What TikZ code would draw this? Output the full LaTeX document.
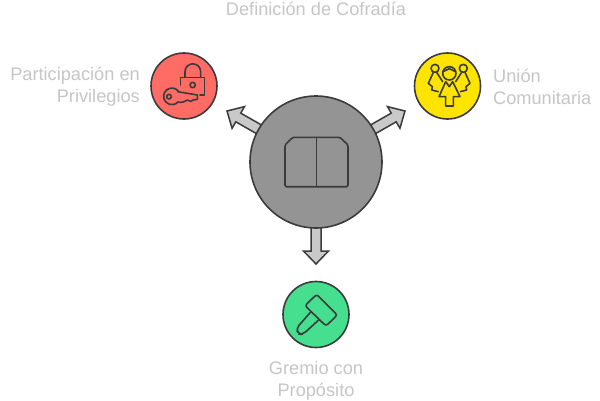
\documentclass[tikz,border=0pt]{standalone}
\usepackage{fontspec}
\setmainfont{Liberation Sans}
\usetikzlibrary{calc,backgrounds}
\definecolor{inkdark}{HTML}{3B3B3B}
\definecolor{labelgrey}{HTML}{C6C6C6}
\definecolor{hubgrey}{HTML}{949494}
\definecolor{arrowgrey}{HTML}{C9C9C9}
\definecolor{redfill}{HTML}{FF6B65}
\definecolor{yellowfill}{HTML}{FFE400}
\definecolor{greenfill}{HTML}{45DF8F}
\tikzset{
  disc/.style={circle,draw=inkdark,line width=1.6pt,inner sep=0pt,minimum size=#1},
  lbl/.style={text=labelgrey,font=\fontsize{18.2}{22}\selectfont,inner sep=0pt},
  icon/.style={draw=inkdark,line width=1.6pt,line join=round,line cap=round},
  fatarrow/.style={draw=inkdark,fill=arrowgrey,line width=1.5pt,line join=miter,
    to path={
      ($(\tikztotarget)!13pt!(\tikztostart)$) coordinate (neck)
      ($(neck)!5pt!90:(\tikztotarget)$) coordinate (n1)
      ($(neck)!5pt!-90:(\tikztotarget)$) coordinate (n2)
      ($(neck)!12.5pt!90:(\tikztotarget)$) coordinate (h1)
      ($(neck)!12.5pt!-90:(\tikztotarget)$) coordinate (h2)
      ($(\tikztostart)!5pt!90:(\tikztotarget)$) coordinate (b1)
      ($(\tikztostart)!5pt!-90:(\tikztotarget)$) coordinate (b2)
      (b1) -- (n1) -- (h1) -- (\tikztotarget) -- (h2) -- (n2) -- (b2) -- cycle
    }}
}
\begin{document}
\begin{tikzpicture}[x=1pt,y=-1pt]
\useasboundingbox (0,0) rectangle (600,400);
\node[disc=132pt,fill=hubgrey] (hub) at (316,162) {};
\node[disc=66pt,fill=redfill] (priv) at (184,86) {};
\node[disc=66pt,fill=yellowfill] (union) at (447.5,86) {};
\node[disc=66pt,fill=greenfill] (gremio) at (316,314.5) {};
\coordinate (tipl) at (227,111);
\coordinate (tipr) at (405,111);
\coordinate (tipd) at (316,264);
\begin{scope}[on background layer]
\fill[white] (0,0) rectangle (600,400);
\draw[fatarrow] (hub.center) to (tipl);
\draw[fatarrow] (hub.center) to (tipr);
\draw[fatarrow] (hub.center) to (tipd);
\end{scope}
% book
\draw[icon,rounded corners=1.5pt] (292.7,137.3) -- (340,137.3) -- (348,145) -- (348,186.7) -- (285,186.7) -- (285,145) -- cycle;
\draw[icon] (316.3,137.3) -- (316.3,186.7);
% lock and key
\begin{scope}[shift={(140,40)},x=0.3333pt,y=-0.3333pt]
\draw[icon] (122,135) -- (122,112) -- (194,112) -- (194,165) -- (180,165);
\draw[icon] (135,112) -- (135,95) arc[start angle=180,end angle=0,x radius=23.5,y radius=-23.5] -- (182,112);
\draw[icon] (158,135) circle[radius=8];
\draw[icon] (113,155) -- (172,165) -- (172,178) -- (160,180) -- (152,184) -- (142,180) -- (130,186) -- (118,187);
\draw[icon] (115,153) arc[start angle=-40,end angle=-320,radius=25];
\draw[icon] (87,170) circle[radius=7];
\end{scope}
% people
\begin{scope}[shift={(405,40)},x=0.3333pt,y=-0.3333pt]
\draw[icon] (90,85) circle[radius=12];
\draw[icon] (175,85) circle[radius=12];
\draw[icon] (133,100) circle[radius=20];
\draw[icon] (114,95) -- (133,86) -- (152,95);
\draw[icon] (85,97) -- (70,130) -- (82,140) -- (80,150) -- (100,155);
\draw[icon] (95,97) -- (113,125);
\draw[icon] (180,97) -- (195,130) -- (183,140) -- (185,150) -- (166,155);
\draw[icon] (170,97) -- (152,125);
\draw[icon] (122,125) -- (102,170) -- (122,170) -- (122,198) -- (145,198) -- (145,170) -- (165,170) -- (143,125) -- (133,140) -- cycle;
\end{scope}
% hammer
\begin{scope}[shift={(275,275)},x=0.3333pt,y=-0.3333pt]
\draw[icon,rounded corners=2.5pt] (125,58) -- (187,120) -- (153,153) -- (90,92) -- cycle;
\draw[icon,rounded corners=4pt] (108,110) -- (64,160) -- (70,178) -- (84,178) -- (132,134);
\end{scope}
% labels
\node[lbl,anchor=center] (title) at (316,9) {Definición de Cofradía};
\node[lbl,anchor=east,align=right] (lpriv) at (140,87) {Participación en\\Privilegios};
\node[lbl,anchor=west,align=left] (lunion) at (493,87) {Unión\\Comunitaria};
\node[lbl,anchor=center,align=center] (lgremio) at (316,380.4) {Gremio con\\Propósito};
\end{tikzpicture}
\end{document}
